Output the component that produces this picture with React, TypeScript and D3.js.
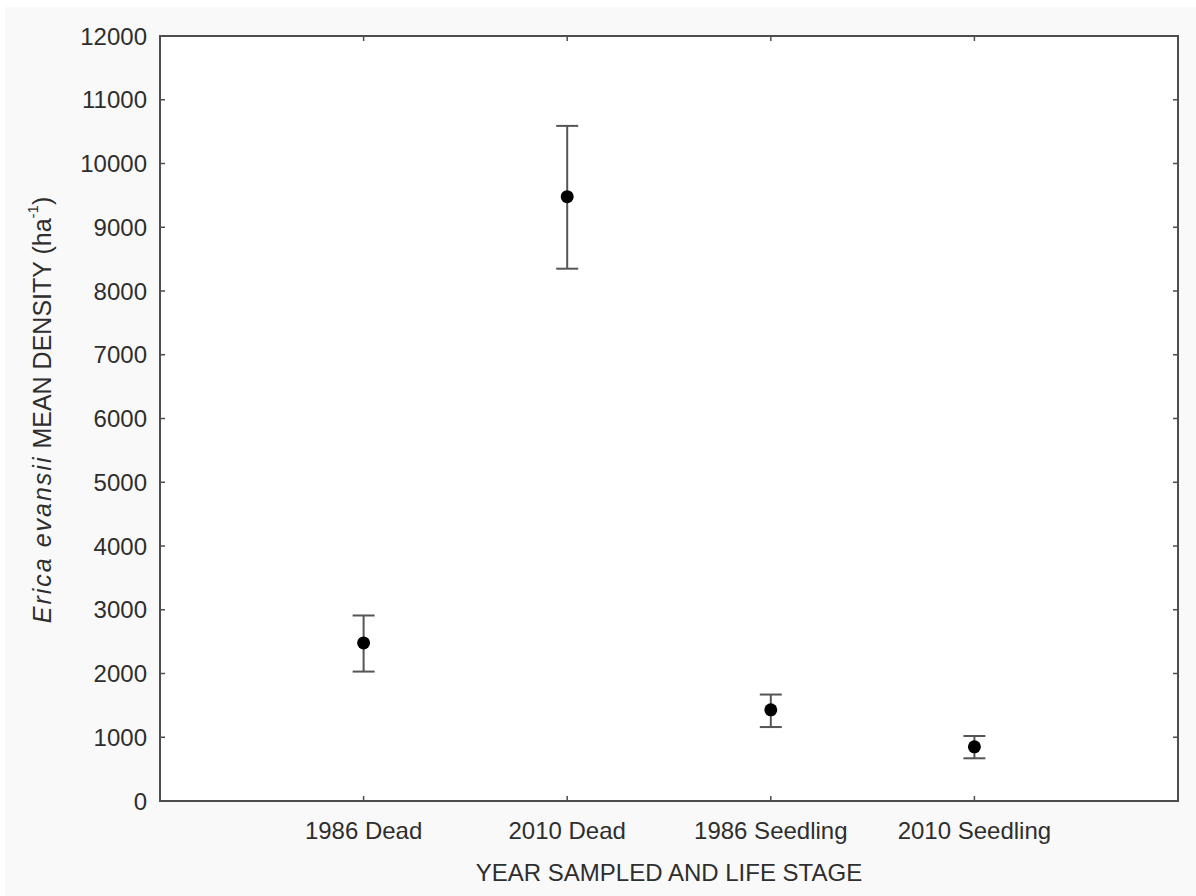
import React from "react";
import * as d3 from "d3";

const categories = ["1986 Dead", "2010 Dead", "1986 Seedling", "2010 Seedling"];
const means = [2480, 9480, 1430, 850];
const upperVals = [2910, 10590, 1670, 1020];
const lowerVals = [2030, 8350, 1160, 670];
const yTickValues = [0, 1000, 2000, 3000, 4000, 5000, 6000, 7000, 8000, 9000, 10000, 11000, 12000];

const W = 1196;
const H = 896;
const left = 160;
const right = 1178;
const top = 36;
const bottom = 801;

export default function App() {
  const x = d3.scalePoint<string>().domain(categories).range([left, right]).padding(1);
  const y = d3.scaleLinear().domain([0, 12000]).range([bottom, top]);
  const axisColor = "#4d4d4d";
  const textColor = "#2e2e2e";
  const font = "'Liberation Sans', Arial, sans-serif";
  const capHalf = 11;
  const tick = 5;

  return (
    <svg width={W} height={H} style={{ position: "absolute", left: 0, top: 0, display: "block" }}>
      <rect x={0} y={0} width={W} height={H} fill="#ffffff" />
      <rect x={5} y={7} width={W - 5} height={H - 7} fill="#f9f9f9" />
      <rect x={left} y={top} width={right - left} height={bottom - top} fill="#ffffff" />

      {/* ticks */}
      {yTickValues.map((v) => (
        <g key={"yt" + v}>
          <line x1={left} x2={left + tick} y1={y(v)} y2={y(v)} stroke={axisColor} strokeWidth={1.5} />
          <line x1={right} x2={right - tick} y1={y(v)} y2={y(v)} stroke={axisColor} strokeWidth={1.5} />
          <text
            x={147}
            y={y(v)}
            textAnchor="end"
            dominantBaseline="central"
            fontFamily={font}
            fontSize={24}
            fill={textColor}
          >
            {v}
          </text>
        </g>
      ))}
      {categories.map((c) => (
        <g key={"xt" + c}>
          <line x1={x(c)!} x2={x(c)!} y1={bottom} y2={bottom - tick} stroke={axisColor} strokeWidth={1.5} />
          <line x1={x(c)!} x2={x(c)!} y1={top} y2={top + tick} stroke={axisColor} strokeWidth={1.5} />
          <text
            x={x(c)!}
            y={830}
            textAnchor="middle"
            dominantBaseline="central"
            fontFamily={font}
            fontSize={24}
            fill={textColor}
          >
            {c}
          </text>
        </g>
      ))}

      {/* frame */}
      <rect
        x={left}
        y={top}
        width={right - left}
        height={bottom - top}
        fill="none"
        stroke={axisColor}
        strokeWidth={2}
      />

      {/* error bars */}
      {categories.map((c, i) => {
        const cx = x(c)!;
        return (
          <g key={"eb" + c}>
            <line x1={cx} x2={cx} y1={y(upperVals[i])} y2={y(lowerVals[i])} stroke="#555" strokeWidth={2} />
            <line
              x1={cx - capHalf}
              x2={cx + capHalf}
              y1={y(upperVals[i])}
              y2={y(upperVals[i])}
              stroke="#555"
              strokeWidth={2}
            />
            <line
              x1={cx - capHalf}
              x2={cx + capHalf}
              y1={y(lowerVals[i])}
              y2={y(lowerVals[i])}
              stroke="#555"
              strokeWidth={2}
            />
            <circle cx={cx} cy={y(means[i])} r={6.5} fill="#000" />
          </g>
        );
      })}

      {/* axis titles */}
      <text
        x={(left + right) / 2}
        y={872}
        textAnchor="middle"
        dominantBaseline="central"
        fontFamily={font}
        fontSize={24}
        fill={textColor}
      >
        YEAR SAMPLED AND LIFE STAGE
      </text>
      <text
        transform={`translate(42, 410) rotate(-90)`}
        textAnchor="middle"
        dominantBaseline="central"
        fontFamily={font}
        fontSize={25}
        fill={textColor}
      >
        <tspan fontStyle="italic" letterSpacing={2}>Erica evansii</tspan>
        <tspan> MEAN DENSITY (ha</tspan>
        <tspan fontSize={15} dy={-10}>-1</tspan>
        <tspan dy={10}>)</tspan>
      </text>
    </svg>
  );
}
